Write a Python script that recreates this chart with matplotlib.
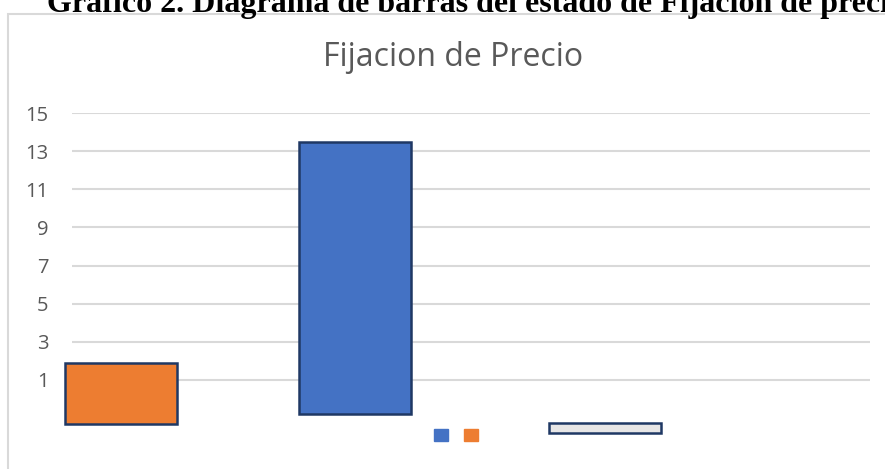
import matplotlib.pyplot as plt
from matplotlib.patches import Patch, Rectangle

# data (floating bars: bottom and top values)
bar_names = ["Naranja", "Azul", "Blanco"]
bar_pos = [0.44, 2.53, 4.76]
bar_bottom = [-1.33, -0.80, -1.77]
bar_top = [1.87, 13.49, -1.24]
bar_colors = ["#ED7D31", "#4472C4", "#E7E6E6"]
y_ticks = [1, 3, 5, 7, 9, 11, 13, 15]
legend_colors = ["#4472C4", "#ED7D31"]

W, H = 885, 469
fig = plt.figure(figsize=(W / 100, H / 100), dpi=100)

# chart frame (partly cut off on the right and bottom)
fig.patches.append(Rectangle((8 / W, -0.1), 1.0, (H - 14) / H + 0.1,
                             transform=fig.transFigure, fill=False,
                             edgecolor="#D9D9D9", linewidth=1.5))

# document caption, cut off at top
fig.text(47 / W, 1 - 12 / H,
         "Gráfico 2. Diagrama de barras del estado de Fijación de precio",
         family="Liberation Serif", weight="bold", fontsize=23,
         ha="left", va="baseline", color="black")

ax = fig.add_axes([72 / W, 1 - 444.8 / H, (870 - 72) / W, (444.8 - 113) / H])
ax.set_xlim(0, 7.125)
ax.set_ylim(-2.4, 15)

heights = [t - b for t, b in zip(bar_top, bar_bottom)]
ax.bar(bar_pos, heights, bottom=bar_bottom, width=1.0, color=bar_colors,
       edgecolor="#1F3864", linewidth=1.8, clip_on=False, zorder=3)

ax.set_yticks(y_ticks)
ax.set_xticks([])
ax.grid(axis="y", color="#D9D9D9", linewidth=1.5, zorder=0)
ax.tick_params(axis="y", length=0, pad=17, labelsize=14.5, labelcolor="#595959")
for lab in ax.get_yticklabels():
    lab.set_family("Open Sans")
for s in ax.spines.values():
    s.set_visible(False)

fig.text(453 / W, 1 - 58 / H, "Fijacion de Precio", family="Open Sans",
         fontsize=23, color="#595959", ha="center", va="center")

handles = [Patch(color=c) for c in legend_colors]
fig.legend(handles, ["", ""], loc="center", bbox_to_anchor=(456 / W, 1 - 436 / H),
           ncol=2, frameon=False, handlelength=1.0, handleheight=1.0,
           columnspacing=1.2, handletextpad=0.0)

fig.savefig("out.png", dpi=100)
